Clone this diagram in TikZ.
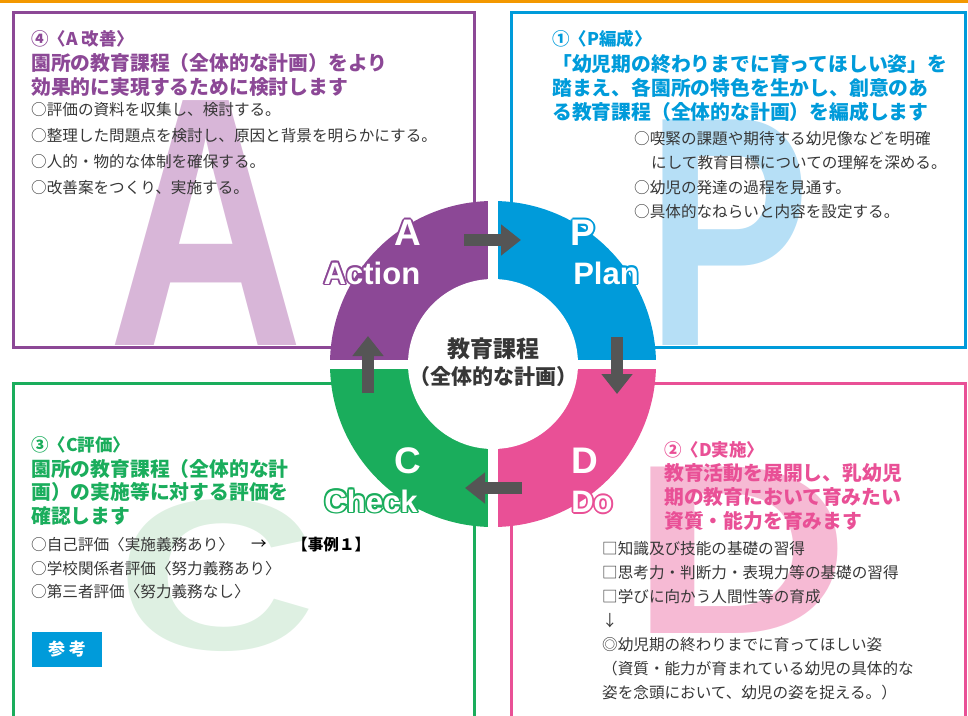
\documentclass[tikz,border=0pt]{standalone}
\usepackage{fontspec}
\usepackage{graphicx}
\setmainfont{Liberation Sans}
\newfontfamily\jp{Noto Sans CJK JP}
\usetikzlibrary{arrows.meta}
\definecolor{cA}{RGB}{140,72,150}
\definecolor{cP}{RGB}{0,155,218}
\definecolor{cC}{RGB}{26,173,92}
\definecolor{cD}{RGB}{233,80,150}
\definecolor{lA}{RGB}{216,182,216}
\definecolor{lP}{RGB}{182,223,246}
\definecolor{lC}{RGB}{222,240,226}
\definecolor{lD}{RGB}{246,186,212}
\definecolor{txt}{RGB}{55,55,55}
\definecolor{arr}{RGB}{85,85,85}
\definecolor{orng}{RGB}{243,152,0}
\newcommand\rlab[5]{%
  \foreach \ang in {0,45,...,315}
    \node[inner sep=0pt,text=#3,font=\bfseries\fontsize{#4}{#4}\selectfont,shift={(\ang:1.8pt)}] at (#2) {#5};
  \node[inner sep=0pt,text=white,font=\bfseries\fontsize{#4}{#4}\selectfont] (#1) at (#2) {#5};
}
\begin{document}
\begin{tikzpicture}[x=1pt,y=-1pt,
    box/.style={line width=3pt},
    big/.style={inner sep=0pt,anchor=base west,font=\bfseries},
    ttl/.style={inner sep=0pt,anchor=west,font=\jp\bfseries\fontsize{17.5}{17.5}\selectfont},
    hd/.style={inner sep=0pt,anchor=west,font=\jp\bfseries\fontsize{19.8}{19.8}\selectfont},
    bd/.style={inner sep=0pt,anchor=west,text=txt,font=\jp\fontsize{15.6}{15.6}\selectfont},
    blk/.style={arr,line width=12pt,-{Triangle[length=20pt,width=30pt]}}]
    \useasboundingbox (0,0) rectangle (968,715);
    \clip (0,0) rectangle (968,715);
    \fill[orng] (0,0) rectangle (968,3);
    \draw[box,cA] (13,12) rectangle (474,347);
    \draw[box,cP] (511,12) rectangle (965,347);
    \draw[box,cC] (13,383) rectangle (474,730);
    \draw[box,cD] (511,383) rectangle (965,730);

    \node[big,text=lA] (bigA) at (108,345) {\fontsize{356}{356}\selectfont\scalebox{0.76}[1]{A}};
    \node[big,text=lP] (bigP) at (646,345) {\fontsize{328}{328}\selectfont\scalebox{0.75}[1]{P}};
    \node[big,text=lC] (bigC) at (116,649) {\fontsize{215}{215}\selectfont\scalebox{1.29}[1]{C}};
    \node[big,text=lD] (bigD) at (630,633) {\fontsize{242}{242}\selectfont\scalebox{1.26}[1]{D}};

    \node[ttl,text=cA] (tA) at (31,39) {④〈A 改善〉};
    \foreach \t [count=\i] in {園所の教育課程（全体的な計画）をより,効果的に実現するために検討します}
        \node[hd,text=cA] (hA\i) at (31,39+24*\i) {\t};
    \foreach \t [count=\i] in {○評価の資料を収集し、検討する。,○整理した問題点を検討し、原因と背景を明らかにする。,○人的・物的な体制を確保する。,○改善案をつくり、実施する。}
        \node[bd] (bA\i) at (31,84+26*\i) {\t};

    \node[ttl,text=cP] (tP) at (552,39) {①〈P編成〉};
    \foreach \t [count=\i] in {「幼児期の終わりまでに育ってほしい姿」を,踏まえ、各園所の特色を生かし、創意のあ,る教育課程（全体的な計画）を編成します}
        \node[hd,text=cP] (hP\i) at (552,40+24*\i) {\t};
    \foreach \dx/\t [count=\i] in {0/○喫緊の課題や期待する幼児像などを明確,17/にして教育目標についての理解を深める。,0/○幼児の発達の過程を見通す。,0/○具体的なねらいと内容を設定する。}
        \node[bd] (bP\i) at (634+\dx,114+24.5*\i) {\t};

    \node[ttl,text=cC] (tC) at (31,445) {③〈C評価〉};
    \foreach \t [count=\i] in {園所の教育課程（全体的な計,画）の実施等に対する評価を,確認します}
        \node[hd,text=cC] (hC\i) at (31,445+23.5*\i) {\t};
    \foreach \t [count=\i] in {○自己評価〈実施義務あり〉,○学校関係者評価〈努力義務あり〉,○第三者評価〈努力義務なし〉}
        \node[bd] (bC\i) at (31,521.5+23.5*\i) {\t};
    \node[bd,text=black] (to) at (251,545) {→};
    \node[bd,text=black,font=\jp\bfseries\fontsize{15.6}{15.6}\selectfont] (ex) at (292,545) {【事例１】};
    \node[fill=cP,text=white,inner sep=0pt,minimum width=70pt,minimum height=35pt,font=\jp\bfseries\fontsize{17}{17}\selectfont] (ref) at (67,649) {参 考};

    \node[ttl,text=cD] (tD) at (664,450) {②〈D実施〉};
    \foreach \t [count=\i] in {教育活動を展開し、乳幼児,期の教育において育みたい,資質・能力を育みます}
        \node[hd,text=cD] (hD\i) at (664,450+23.5*\i) {\t};
    \foreach \t [count=\i] in {□知識及び技能の基礎の習得,□思考力・判断力・表現力等の基礎の習得,□学びに向かう人間性等の育成,↓,◎幼児期の終わりまでに育ってほしい姿,（資質・能力が育まれている幼児の具体的な,姿を念頭において、幼児の姿を捉える。）}
        \node[bd] (bD\i) at (602,525+24*\i) {\t};

    \coordinate (o) at (493,364);
    \begin{scope}
        \clip (o) circle[radius=163pt];
        \fill[cA] (o) rectangle ++(-170,-170);
        \fill[cP] (o) rectangle ++(170,-170);
        \fill[cC] (o) rectangle ++(-170,170);
        \fill[cD] (o) rectangle ++(170,170);
    \end{scope}
    \fill[white] (o) circle[radius=85pt];
    \draw[white,line width=9pt] ([xshift=-166pt]o) -- ([xshift=166pt]o);
    \draw[white,line width=10pt] ([yshift=-166pt]o) -- ([yshift=166pt]o);
    \node[text=txt,font=\jp\bfseries\fontsize{23}{23}\selectfont] (k1) at (493,349) {教育課程};
    \node[text=txt,font=\jp\bfseries\fontsize{21}{21}\selectfont] (k2) at (493,377) {（全体的な計画）};

    \rlab{lA}{408,233}{cA}{37}{A}
    \rlab{lAc}{372,273}{cA}{31}{Action}
    \rlab{lP}{583,233}{cP}{37}{P}
    \rlab{lPl}{606,273}{cP}{31}{Plan}
    \rlab{lC}{408,461}{cC}{37}{C}
    \rlab{lCh}{371,501}{cC}{31}{Check}
    \rlab{lD}{585,461}{cD}{37}{D}
    \rlab{lDo}{592,502}{cD}{31}{Do}

    \coordinate (ap1) at (464,240);
    \coordinate (ap2) at (521,240);
    \coordinate (pd1) at (617,337);
    \coordinate (pd2) at (617,394);
    \coordinate (dc1) at (522,488);
    \coordinate (dc2) at (465,488);
    \coordinate (ca1) at (368,393);
    \coordinate (ca2) at (368,336);
    \draw[blk] (ap1) -- (ap2);
    \draw[blk] (pd1) -- (pd2);
    \draw[blk] (dc1) -- (dc2);
    \draw[blk] (ca1) -- (ca2);
\end{tikzpicture}
\end{document}
